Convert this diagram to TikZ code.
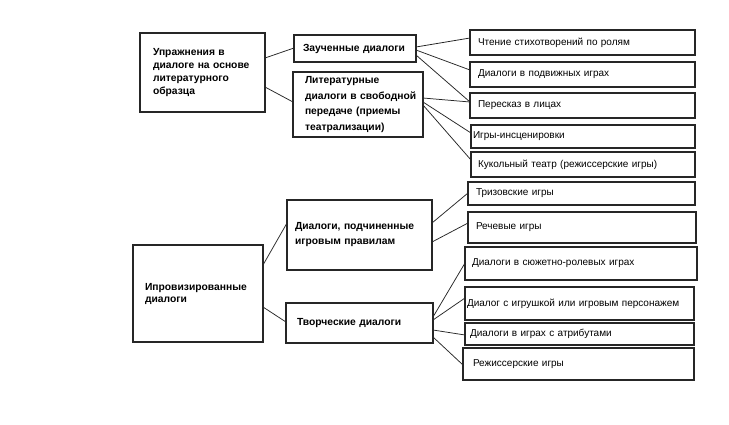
\documentclass[tikz,border=0pt]{standalone}
\usepackage{fontspec}
\setmainfont{Liberation Sans}
\begin{document}
\begin{tikzpicture}[x=1pt,y=-1pt,
  box/.style={draw=black!85, line width=1.1pt, anchor=north west, outer sep=0pt, inner ysep=1pt, inner xsep=2pt, align=left},
  bw/.style={minimum width=#1pt, text width=#1pt-4pt},
  bh/.style={minimum height=#1pt},
  pad/.style={execute at begin node={\leftskip=#1pt\relax}},
  main/.style={box, font=\bfseries\fontsize{10.3}{13.3}\selectfont},
  leaf/.style={box, font=\fontsize{10}{12}\selectfont},
  link/.style={draw=black!85, line width=0.75pt}]
\useasboundingbox[fill=white] (0,0) rectangle (729,424);
% level 1
\node[main, bw=125, bh=79, pad=11] (A) at (140,33) {Упражнения в\\диалоге на основе\\литературного\\образца};
\node[main, bw=130, bh=97, pad=10, font=\bfseries\fontsize{10.3}{12}\selectfont] (D) at (133,245) {Ипровизированные\\диалоги};
% level 2
\node[main, bw=122, bh=27, pad=7] (B) at (294,35) {Заученные диалоги};
\node[main, bw=130, bh=65, pad=10, font=\bfseries\fontsize{10.3}{15.5}\selectfont] (C) at (293,72) {Литературные\\диалоги в свободной\\передаче (приемы\\театрализации)};
\node[main, bw=145, bh=70, pad=6, font=\bfseries\fontsize{10.3}{15}\selectfont] (E) at (287,200) {Диалоги, подчиненные\\игровым правилам};
\node[main, bw=147, bh=40, pad=9] (F) at (286,303) {Творческие диалоги};
% leaves
\node[leaf, bw=225, bh=25, pad=6] (R1) at (470,30) {Чтение стихотворений по ролям};
\node[leaf, bw=225, bh=25, pad=6] (R2) at (470,62) {Диалоги в подвижных играх};
\node[leaf, bw=225, bh=25, pad=6] (R3) at (470,93) {Пересказ в лицах};
\node[leaf, bw=224, bh=23, pad=0] (R4) at (471,125) {Игры-инсценировки};
\node[leaf, bw=224, bh=25, pad=5] (R5) at (471,152) {Кукольный театр (режиссерские игры)};
\node[leaf, bw=227, bh=23, pad=6] (R6) at (468,182) {Тризовские игры};
\node[leaf, bw=228, bh=31, pad=6] (R7) at (468,212) {Речевые игры};
\node[leaf, bw=232, bh=33, pad=5] (R8) at (465,247) {Диалоги в сюжетно-ролевых играх};
\node[leaf, bw=229, bh=33, pad=0] (R9) at (465,287) {Диалог с игрушкой или игровым персонажем};
\node[leaf, bw=229, bh=22, pad=3] (R10) at (465,323) {Диалоги в играх с атрибутами};
\node[leaf, bw=231, bh=32, pad=8] (R11) at (463,348) {Режиссерские игры};
% connectors
\draw[link] ([yshift=-25pt]A.north east) -- ([yshift=-13pt]B.north west);
\draw[link] ([yshift=-54pt]A.north east) -- ([yshift=-30pt]C.north west);
\draw[link] ([yshift=-12pt]B.north east) -- ([yshift=-8pt]R1.north west);
\draw[link] ([yshift=-15pt]B.north east) -- ([yshift=-8pt]R2.north west);
\draw[link] ([yshift=-20pt]B.north east) -- ([yshift=-9pt]R3.north west);
\draw[link] ([yshift=-26pt]C.north east) -- ([yshift=-9pt]R3.north west);
\draw[link] ([yshift=-30pt]C.north east) -- ([yshift=-8pt]R4.north west);
\draw[link] ([yshift=-33pt]C.north east) -- ([yshift=-8pt]R5.north west);
\draw[link] ([yshift=-20pt]D.north east) -- ([yshift=-23pt]E.north west);
\draw[link] ([yshift=-62pt]D.north east) -- ([yshift=-19pt]F.north west);
\draw[link] ([yshift=-23pt]E.north east) -- ([yshift=-11pt]R6.north west);
\draw[link] ([yshift=-42pt]E.north east) -- ([yshift=-11pt]R7.north west);
\draw[link] ([yshift=-14pt]F.north east) -- ([yshift=-16pt]R8.north west);
\draw[link] ([yshift=-17pt]F.north east) -- ([yshift=-11pt]R9.north west);
\draw[link] ([yshift=-27pt]F.north east) -- ([yshift=-12pt]R10.north west);
\draw[link] ([yshift=-34pt]F.north east) -- ([yshift=-17pt]R11.north west);
\end{tikzpicture}
\end{document}
